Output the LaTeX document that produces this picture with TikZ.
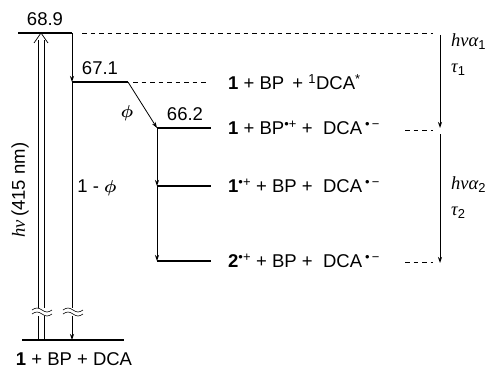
\documentclass[tikz,border=0pt]{standalone}
\usepackage{fontspec}
\setmainfont{Liberation Sans}
\newfontfamily\grk{Liberation Serif}
\usetikzlibrary{arrows.meta}
\begin{document}
\begin{tikzpicture}[x=1pt,y=-1pt,
  lvl/.style={line width=2.6pt},
  thinl/.style={line width=0.8pt},
  arr/.style={thinl,-{Stealth[length=6pt,width=4pt]}},
  dsh/.style={line width=0.7pt,dash pattern=on 4.5pt off 4pt},
  lab/.style={font=\fontsize{18.5}{21}\selectfont, inner sep=0pt},
  brk/.style={line width=0.6pt}]
\useasboundingbox (0,0) rectangle (493,369);
% level end points
\coordinate (Ta) at (18,33);  \coordinate (Tb) at (72,33);
\coordinate (Sa) at (72,82);  \coordinate (Sb) at (128,82);
\coordinate (Ra) at (157,128); \coordinate (Rb) at (211,128);
\coordinate (Qa) at (157,186); \coordinate (Qb) at (211,186);
\coordinate (Pa) at (157,261); \coordinate (Pb) at (211,261);
\coordinate (Ga) at (22,340); \coordinate (Gb) at (124,340);
% levels
\draw[lvl] (Ta) -- (Tb);
\draw[lvl] (Sa) -- (Sb);
\draw[lvl] (Ra) -- (Rb);
\draw[lvl] (Qa) -- (Qb);
\draw[lvl] (Pa) -- (Pb);
\draw[lvl] (Ga) -- (Gb);
% dashed guides
\coordinate (d1s) at (82,33);  \coordinate (d1e) at (433,33);
\coordinate (d2s) at (133,82); \coordinate (d2e) at (206,82);
\coordinate (d3s) at (405,130); \coordinate (d3e) at (433,130);
\coordinate (d4s) at (405,262); \coordinate (d4e) at (433,262);
\draw[dsh] (d1s) -- (d1e);
\draw[dsh] (d2s) -- (d2e);
\draw[dsh] (d3s) -- (d3e);
\draw[dsh] (d4s) -- (d4e);
% right arrows
\coordinate (r1s) at (440,35);  \coordinate (r1e) at (440,128);
\coordinate (r2s) at (440,134); \coordinate (r2e) at (440,263);
\draw[arr] (r1s) -- (r1e);
\draw[arr] (r2s) -- (r2e);
% transitions
\draw[arr] (Tb) -- (Sa);
\coordinate (Gm) at (72,340);
\draw[arr] (Sa) -- (Gm);
\draw[arr] (Sb) -- (Ra);
\draw[arr] (Ra) -- (Qa);
\draw[arr] (Qa) -- (Pa);
% excitation double arrow (open head)
\coordinate (hL0) at (38,340); \coordinate (hL1) at (38,40);
\coordinate (hR0) at (44,340); \coordinate (hR1) at (44,40);
\coordinate (hwL) at (34,43); \coordinate (htip) at (41,33); \coordinate (hwR) at (48,43);
\draw[line width=0.7pt] (hL0) -- (hL1);
\draw[line width=0.7pt] (hR0) -- (hR1);
\draw[line width=0.7pt, line join=miter] (hwL) -- (htip) -- (hwR);
% break marks
\fill[white] (30,308) rectangle (54,316);
\fill[white] (61,308) rectangle (83,316);
\foreach \xa in {32,63}{
  \draw[brk] (\xa,310) sin ++(5,-2) cos ++(5,2) sin ++(5,2) cos ++(5,-2);
  \draw[brk] (\xa,314) sin ++(5,-2) cos ++(5,2) sin ++(5,2) cos ++(5,-2);
}
% labels
\node[lab] (l689) at (45,19) {68.9};
\node[lab] (l671) at (100,68) {67.1};
\node[lab] (l662) at (185,114) {66.2};
\node[lab] (lphi) at (127,113) {{\boldmath$\phi$}};
\node[lab] (l1phi) at (97,188) {1 - {\boldmath$\phi$}};
\node[lab,rotate=90] (lhv) at (20,190) {{\grk\itshape hν\,}(415 nm)};
\node[lab] (lg) at (74,359) {\textbf{1} + BP + DCA};
\node[lab,anchor=west] (r1) at (228,82) {\textbf{1} + BP \,+ \textsuperscript{1}DCA\textsuperscript{*}};
\node[lab,anchor=west] (r2) at (228,128) {\textbf{1} + BP\textsuperscript{•+} + \;DCA\,\textsuperscript{•\,−}};
\node[lab,anchor=west] (r3) at (228,186) {\textbf{1}\textsuperscript{•+} + BP + \;DCA\,\textsuperscript{•\,−}};
\node[lab,anchor=west] (r4) at (228,261) {\textbf{2}\textsuperscript{•+} + BP + \;DCA\,\textsuperscript{•\,−}};
\node[lab,anchor=west] (a1) at (451,42) {{\grk\itshape hνα}\textsubscript{1}};
\node[lab,anchor=west] (t1) at (451,70) {{\grk\itshape τ}\textsubscript{1}};
\node[lab,anchor=west] (a2) at (451,185) {{\grk\itshape hνα}\textsubscript{2}};
\node[lab,anchor=west] (t2) at (451,213) {{\grk\itshape τ}\textsubscript{2}};
\end{tikzpicture}
\end{document}
